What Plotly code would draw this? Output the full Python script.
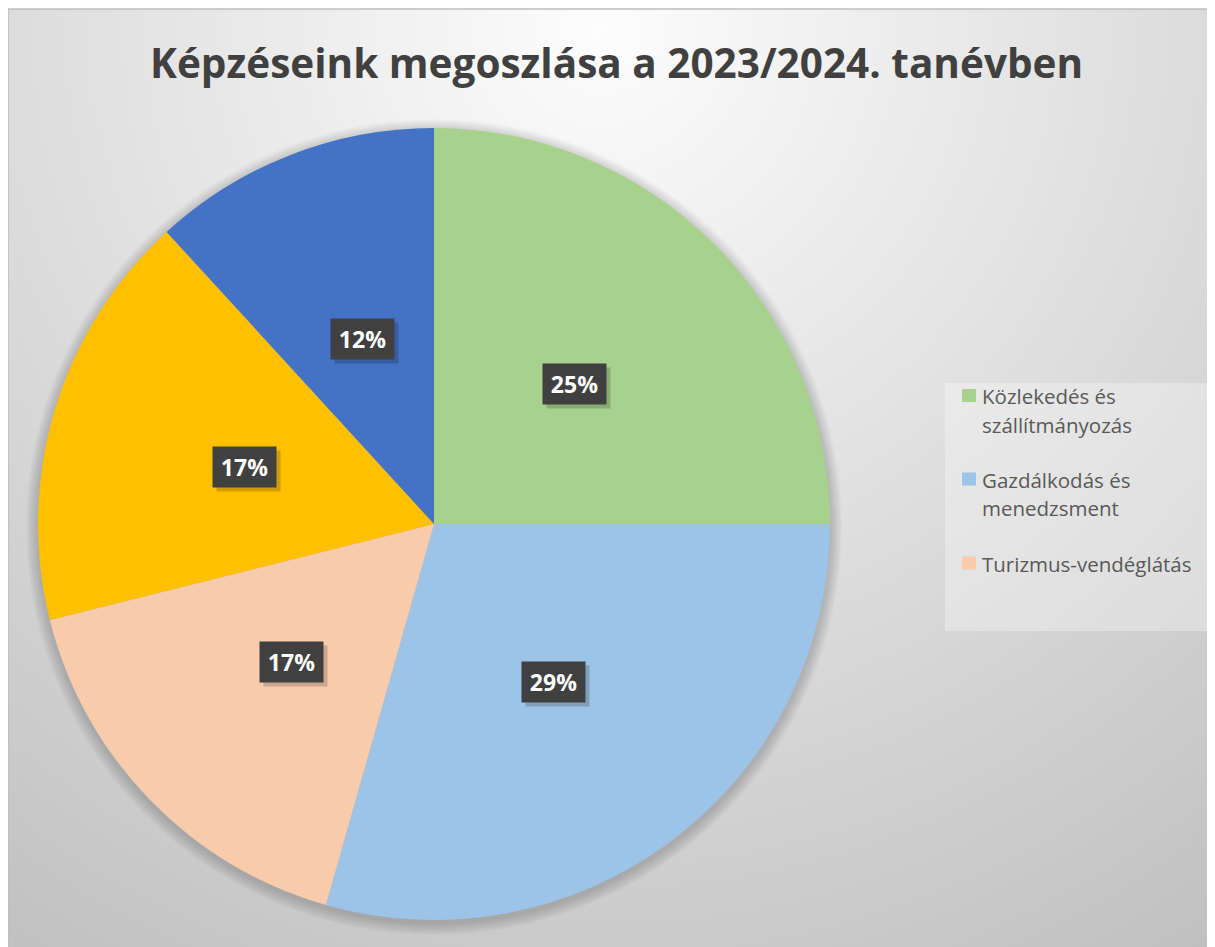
import math, zlib, struct, base64
import plotly.graph_objects as go

# ---------------- data ----------------
categories = ["Közlekedés és szállítmányozás", "Gazdálkodás és menedzsment",
              "Turizmus-vendéglátás", "Egyéb képzés A", "Egyéb képzés B"]
values = [25.0, 29.4, 16.7, 17.1, 11.8]
colors = ["#A9D18E", "#9DC3E6", "#F8CBAD", "#FFC000", "#4472C4"]
legend_lines = [["Közlekedés és", "szállítmányozás"],
                ["Gazdálkodás és", "menedzsment"],
                ["Turizmus-vendéglátás"]]
title_text = "Képzéseink megoszlása a 2023/2024. tanévben"

# ---------------- geometry ----------------
W, H = 1215, 947
OX, OY = 8, 8                   # page offset (body margin)
FX0, FY0 = 8, 9                 # chart frame top-left (screen px)
PCX, PCY, PR = 434, 524, 396    # pie centre / radius (screen px)

def px(x):
    return (x - OX) / W

def py(y):
    return 1 - (y - OY) / H

# ---------------- gradient background (PNG built in-memory) ----------------
def make_png(w, h, rows):
    raw = b"".join(b"\x00" + bytes(r) for r in rows)
    def chunk(t, d):
        c = struct.pack(">I", len(d)) + t + d
        return c + struct.pack(">I", zlib.crc32(t + d) & 0xffffffff)
    return (b"\x89PNG\r\n\x1a\n" + chunk(b"IHDR", struct.pack(">IIBBBBB", w, h, 8, 0, 0, 0, 0))
            + chunk(b"IDAT", zlib.compress(raw, 9)) + chunk(b"IEND", b""))

FX1, FY1 = W + OX, H + OY
iw, ih = 302, 235
rows = []
for j in range(ih):
    yy = FY0 + (j + 0.5) * (FY1 - FY0) / ih
    row = []
    for i in range(iw):
        xx = FX0 + (i + 0.5) * (FX1 - FX0) / iw
        d = math.hypot(xx - 600, yy - 30)
        v = 253 - 62 * min(1.0, d / 1120)
        row.append(int(round(v)))
    rows.append(row)
bg_uri = "data:image/png;base64," + base64.b64encode(make_png(iw, ih, rows)).decode()

# ---------------- figure ----------------
fig = go.Figure()
fig.add_trace(go.Pie(
    labels=categories, values=values, sort=False, direction="clockwise", rotation=0,
    marker=dict(colors=colors, line=dict(width=0)),
    textinfo="none", hoverinfo="label+percent", showlegend=False,
    domain=dict(x=[px(PCX - PR), px(PCX + PR)], y=[py(PCY + PR), py(PCY - PR)]),
))

shapes = []
# pie soft shadow
for k in range(1, 12):
    r = PR + k * 1.1
    oy = 3
    shapes.append(dict(type="circle", xref="paper", yref="paper", layer="below",
                       x0=px(PCX - r), x1=px(PCX + r), y0=py(PCY + oy + r), y1=py(PCY + oy - r),
                       fillcolor="rgba(0,0,0,0.016)", line=dict(width=0)))
# frame
shapes.append(dict(type="rect", xref="paper", yref="paper", layer="below",
                   x0=px(FX0), x1=px(FX1 + 2), y0=py(FY1 + 2), y1=py(FY0),
                   fillcolor="rgba(0,0,0,0)", line=dict(color="#bdbdbd", width=1.5)))
# legend box
shapes.append(dict(type="rect", xref="paper", yref="paper", layer="below",
                   x0=px(945), x1=px(1210), y0=py(631), y1=py(383),
                   fillcolor="rgba(255,255,255,0.30)", line=dict(width=0)))

annotations = []
# title
annotations.append(dict(text=title_text, xref="paper", yref="paper", x=px(616), y=py(63),
                        xanchor="center", yanchor="middle", showarrow=False,
                        font=dict(family="Open Sans", size=40.5, color="#404040", weight="bold")))

# percentage labels
total = sum(values)
cum = 0.0
for v in values:
    mid = (cum + v / 2) / total * 2 * math.pi
    cum += v
    lx = PCX + 0.5 * PR * math.sin(mid)
    ly = PCY - 0.5 * PR * math.cos(mid)
    txt = f"{round(v / total * 100)}%"
    annotations.append(dict(text=" ", xref="paper", yref="paper", x=px(lx), y=py(ly),
                            xshift=4, yshift=-4, xanchor="center", yanchor="middle",
                            showarrow=False, width=63, height=40, borderpad=0,
                            bgcolor="rgba(0,0,0,0.18)", font=dict(size=10)))
    annotations.append(dict(text=f"<b>{txt}</b>", xref="paper", yref="paper", x=px(lx), y=py(ly),
                            xanchor="center", yanchor="middle", showarrow=False,
                            width=63, height=40, borderpad=0, bgcolor="#404040",
                            font=dict(family="Open Sans", size=23, color="white")))

# manual legend
entry_y = [395.5, 479, 563]
for e, (lines, col) in enumerate(zip(legend_lines, colors[:3])):
    y0 = entry_y[e]
    shapes.append(dict(type="rect", xref="paper", yref="paper",
                       x0=px(962), x1=px(976), y0=py(y0 + 6.5), y1=py(y0 - 6.5),
                       fillcolor=col, line=dict(width=0)))
    for li, line in enumerate(lines):
        annotations.append(dict(text=line, xref="paper", yref="paper",
                                x=px(980), y=py(y0 + li * 28 + 1), xanchor="left", yanchor="middle",
                                showarrow=False,
                                font=dict(family="Open Sans", size=20.5, color="#595959")))

fig.update_layout(
    width=W, height=H, autosize=False,
    margin=dict(l=0, r=0, t=0, b=0, pad=0),
    paper_bgcolor="white", plot_bgcolor="white",
    shapes=shapes, annotations=annotations,
    images=[dict(source=bg_uri, xref="paper", yref="paper", x=px(FX0), y=py(FY0),
                 sizex=(FX1 - FX0) / W, sizey=(FY1 - FY0) / H, xanchor="left", yanchor="top",
                 sizing="stretch", layer="below")],
)

fig.write_html("out.html")
